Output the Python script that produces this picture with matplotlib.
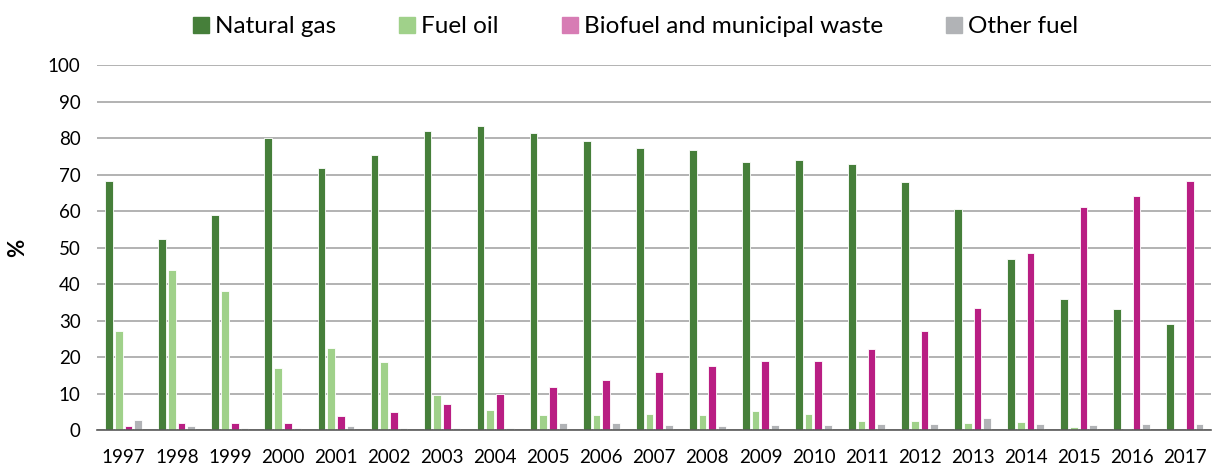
import numpy as np
import matplotlib
matplotlib.use("Agg")
import matplotlib.pyplot as plt
from matplotlib.patches import Patch

plt.rcParams['font.family'] = ['Lato', 'DejaVu Sans']

years = [str(y) for y in range(1997, 2018)]
natural_gas = [68.2, 52.3, 58.9, 79.9, 71.7, 75.3, 82.0, 83.3, 81.5, 79.3, 77.2,
               76.7, 73.4, 74.0, 72.9, 68.0, 60.7, 46.8, 35.9, 33.1, 29.0]
fuel_oil = [27.1, 43.9, 38.0, 16.9, 22.6, 18.5, 9.7, 5.5, 4.0, 4.0, 4.3,
            4.0, 5.2, 4.4, 2.5, 2.5, 2.0, 2.2, 0.7, 0.3, 0.1]
biofuel = [1.0, 1.8, 1.8, 1.8, 3.8, 4.8, 7.0, 9.8, 11.8, 13.8, 16.0,
           17.5, 19.0, 19.0, 22.2, 27.0, 33.3, 48.5, 61.0, 64.0, 68.3]
other_fuel = [2.8, 1.2, 0.6, 0.5, 1.2, 0.6, 0.6, 0.5, 2.0, 2.0, 1.5,
              1.0, 1.5, 1.5, 1.6, 1.6, 3.2, 1.6, 1.5, 1.7, 1.7]

series = [natural_gas, fuel_oil, biofuel, other_fuel]
labels = ['Natural gas', 'Fuel oil', 'Biofuel and municipal waste', 'Other fuel']
colors = ['#467F3A', '#A0D18A', '#B91E83', '#B1B3B6']
legend_colors = ['#467F3A', '#A0D18A', '#D77CB4', '#B1B3B6']

fig = plt.figure(figsize=(12.15, 4.72), dpi=100)
ax = fig.add_axes([0.08, 0.089, 0.917, 0.773])

x = np.arange(len(years))
step = 0.183
width = 0.145
for i, (vals, c) in enumerate(zip(series, colors)):
    ax.bar(x + (i - 1.5) * step, vals, width, color=c, edgecolor='white',
           linewidth=0.6, zorder=3)

ax.set_ylim(0, 100)
ax.set_xlim(-0.5, len(years) - 0.5)
ax.set_yticks(range(0, 101, 10))
ax.set_xticks(x)
ax.set_xticklabels(years)
ax.tick_params(axis='both', length=0, labelsize=13.5, colors='black')
ax.tick_params(axis='x', pad=14)
ax.tick_params(axis='y', pad=12)
ax.yaxis.grid(True, color='#A6A6A6', linewidth=1.2, zorder=0)
for s in ['top', 'right', 'left']:
    ax.spines[s].set_visible(False)
ax.spines['bottom'].set_color('#595959')
ax.spines['bottom'].set_linewidth(1.2)
ax.spines['bottom'].set_zorder(4)
ax.set_ylabel('%', fontsize=16, fontweight='bold', labelpad=14)

handles = [Patch(color=c, label=l) for c, l in zip(legend_colors, labels)]
fig.legend(handles=handles, loc='upper center', bbox_to_anchor=(0.523, 1.012),
           ncol=4, frameon=False, fontsize=17.5, handlelength=0.65,
           handleheight=0.65, handletextpad=0.25, columnspacing=2.6)

fig.savefig('out.png', dpi=100)
